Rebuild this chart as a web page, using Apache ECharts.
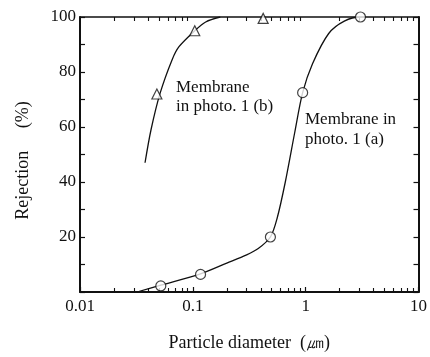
<!DOCTYPE html>
<html>
<head>
<meta charset="utf-8">
<script src="https://cdn.jsdelivr.net/npm/echarts@6/dist/echarts.min.js"></script>
<style>
  html, body { margin: 0; padding: 0; background: #fff; }
  #chart { width: 430px; height: 357px; }
</style>
</head>
<body>
<div id="chart"></div>
<script>
// Measured rejection points (particle diameter in µm, rejection in %)
const membraneA_d = [0.052, 0.117, 0.487, 0.94, 3.06];
const membraneA_r = [2.2, 6.4, 20, 72.5, 100];
const membraneB_d = [0.048, 0.104, 0.42];
const membraneB_r = [72, 95, 99.5];

// Hand-drawn trend curves through the measurements
const curveA_d = [0.032, 0.052, 0.117, 0.2, 0.3, 0.38, 0.487, 0.56, 0.66, 0.8, 0.94, 1.15, 1.6, 2.2, 3.06, 3.4];
const curveA_r = [0, 2.5, 6.6, 10.5, 13.5, 15.8, 20, 27, 40, 58, 72.5, 83, 94, 98.5, 100, 100];
const curveB_d = [0.0377, 0.0426, 0.0513, 0.0654, 0.0754, 0.104, 0.13, 0.175];
const curveB_r = [47, 59, 72.3, 84.4, 89.2, 95, 98.2, 100];

// Axis ticks
const xMajorTicks = [0.01, 0.1, 1, 10];
const xMinorTicks = [0.02, 0.03, 0.04, 0.05, 0.06, 0.07, 0.08, 0.09,
                     0.2, 0.3, 0.4, 0.5, 0.6, 0.7, 0.8, 0.9,
                     2, 3, 4, 5, 6, 7, 8, 9];
const yLabels = [20, 40, 60, 80, 100];

// Annotation text
const labelB = ['Membrane', 'in photo. 1 (b)'];
const labelA = ['Membrane in', 'photo. 1 (a)'];

const zip = (xs, ys) => xs.map((x, i) => [x, ys[i]]);
const FONT = '"Liberation Serif", "DejaVu Serif", serif';
const INK = '#111';

const chart = echarts.init(document.getElementById('chart'), null, { renderer: 'canvas' });

const logAxisBase = {
  type: 'log', logBase: 10, min: 0.01, max: 10, gridIndex: 0,
  splitLine: { show: false }, minorTick: { show: false }, minorSplitLine: { show: false }
};

chart.setOption({
  animation: false,
  backgroundColor: '#fff',
  grid: { left: 80, right: 8, top: 17, bottom: 65 },
  xAxis: [
    Object.assign({}, logAxisBase, {
      position: 'bottom',
      axisLine: { show: true, lineStyle: { color: INK, width: 2 } },
      axisTick: { show: true, inside: true, length: 5, lineStyle: { color: INK, width: 1.2 }, customValues: xMajorTicks },
      axisLabel: {
        show: true, margin: 6, color: INK, fontFamily: FONT, fontSize: 17,
        customValues: xMajorTicks,
        formatter: v => String(v)
      },
      name: 'Particle diameter  (㎛)', nameLocation: 'middle', nameGap: 42,
      nameTextStyle: { color: INK, fontFamily: FONT, fontSize: 18 }
    }),
    Object.assign({}, logAxisBase, {
      position: 'bottom',
      axisLine: { show: false },
      axisTick: { show: true, inside: true, length: 4, lineStyle: { color: INK, width: 1.1 }, customValues: xMinorTicks },
      axisLabel: { show: false }
    }),
    Object.assign({}, logAxisBase, {
      position: 'top',
      axisLine: { show: true, lineStyle: { color: INK, width: 1.6 } },
      axisTick: { show: true, inside: true, length: 4, lineStyle: { color: INK, width: 1.1 }, customValues: xMinorTicks },
      axisLabel: { show: false }
    })
  ],
  yAxis: [
    {
      type: 'value', min: 0, max: 100, interval: 10, position: 'left',
      splitLine: { show: false },
      axisLine: { show: true, lineStyle: { color: INK, width: 2 } },
      axisTick: { show: true, inside: true, length: 5, lineStyle: { color: INK, width: 1.2 } },
      axisLabel: {
        show: true, margin: 4, color: INK, fontFamily: FONT, fontSize: 17,
        customValues: yLabels
      },
      name: 'Rejection     (%)', nameLocation: 'middle', nameRotate: 90, nameGap: 48,
      nameTextStyle: { color: INK, fontFamily: FONT, fontSize: 18, padding: [0, 12, 0, 0] }
    },
    {
      type: 'value', min: 0, max: 100, interval: 10, position: 'right',
      splitLine: { show: false },
      axisLine: { show: true, lineStyle: { color: INK, width: 2 } },
      axisTick: { show: true, inside: true, length: 5, lineStyle: { color: INK, width: 1.2 } },
      axisLabel: { show: false }
    }
  ],
  series: [
    {
      name: 'curve a', type: 'line', xAxisIndex: 0, yAxisIndex: 0,
      data: zip(curveA_d, curveA_r), smooth: 0.3,
      showSymbol: false, lineStyle: { color: INK, width: 1.3 }, z: 2
    },
    {
      name: 'curve b', type: 'line', xAxisIndex: 0, yAxisIndex: 0,
      data: zip(curveB_d, curveB_r), smooth: 0.3,
      showSymbol: false, lineStyle: { color: INK, width: 1.3 }, z: 2
    },
    {
      name: 'membrane a', type: 'scatter', xAxisIndex: 0, yAxisIndex: 0,
      data: zip(membraneA_d, membraneA_r), symbol: 'circle', symbolSize: 10,
      itemStyle: { color: '#fff', borderColor: INK, borderWidth: 1.2 }, z: 5
    },
    {
      name: 'membrane b', type: 'scatter', xAxisIndex: 0, yAxisIndex: 0,
      data: zip(membraneB_d, membraneB_r), symbol: 'triangle', symbolSize: 10,
      itemStyle: { color: '#fff', borderColor: INK, borderWidth: 1.2 }, z: 5
    }
  ],
  graphic: [
    {
      type: 'text', left: 176, top: 78,
      style: { text: labelB.join('\n'), fill: INK, font: '17px ' + FONT, lineHeight: 19 }
    },
    {
      type: 'text', left: 305, top: 110,
      style: { text: labelA.join('\n'), fill: INK, font: '17px ' + FONT, lineHeight: 20 }
    }
  ]
});
</script>
</body>
</html>
